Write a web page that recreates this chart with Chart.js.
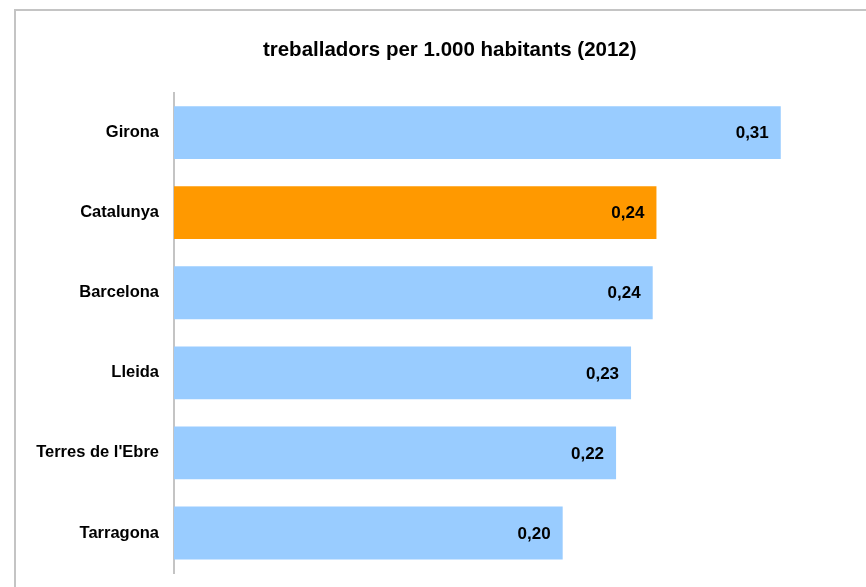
<!DOCTYPE html>
<html>
<head>
<meta charset="utf-8">
<script src="https://cdn.jsdelivr.net/npm/chart.js@4"></script>
<style>
  html, body { margin: 0; padding: 0; background: #fff; }
  #wrap { position: relative; width: 866px; height: 587px; }
</style>
</head>
<body>
<div id="wrap"><canvas id="grafico" width="866" height="587"></canvas></div>
<script>
const titol = 'treballadors per 1.000 habitants (2012)';
const territoris = ['Girona', 'Catalunya', 'Barcelona', 'Lleida', "Terres de l'Ebre", 'Tarragona'];
const valors = [0.308, 0.2449, 0.2430, 0.2320, 0.2244, 0.1973];
const colors = ['#99ccff', '#ff9900', '#99ccff', '#99ccff', '#99ccff', '#99ccff'];

const FONT = '"Liberation Sans", Arial, sans-serif';

// marc gris de dalt i esquerra
const marc = {
  id: 'marc',
  beforeDraw(chart) {
    const c = chart.ctx;
    c.save();
    c.strokeStyle = '#c4c4c4';
    c.lineWidth = 2;
    c.beginPath();
    c.moveTo(15, 587);
    c.lineTo(15, 10);
    c.lineTo(866, 10);
    c.stroke();
    c.restore();
  }
};

// etiquetes de valor dins la barra
const etiquetes = {
  id: 'etiquetes',
  afterDatasetsDraw(chart) {
    const c = chart.ctx;
    const meta = chart.getDatasetMeta(0);
    c.save();
    c.font = 'bold 17px ' + FONT;
    c.fillStyle = '#000';
    c.textAlign = 'right';
    c.textBaseline = 'middle';
    meta.data.forEach((bar, i) => {
      c.fillText(valors[i].toFixed(2).replace('.', ','), bar.x - 12, bar.y + 1);
    });
    c.restore();
  }
};

const ctx = document.getElementById('grafico').getContext('2d');
window.miGrafico = new Chart(ctx, {
  type: 'bar',
  data: {
    labels: territoris,
    datasets: [{
      data: valors,
      backgroundColor: colors,
      borderWidth: 0,
      categoryPercentage: 1,
      barPercentage: 0.66
    }]
  },
  options: {
    indexAxis: 'y',
    responsive: false,
    animation: false,
    layout: { padding: { left: 36, right: 2.5, top: 0, bottom: 14 } },
    plugins: {
      legend: { display: false },
      tooltip: { enabled: false },
      title: {
        display: true,
        text: titol,
        color: '#000',
        font: { family: FONT, size: 20.5, weight: 'bold', lineHeight: 1.2 },
        padding: { top: 38, bottom: 30 }
      }
    },
    scales: {
      x: { display: false, min: 0, max: 0.35 },
      y: {
        grid: { display: false, drawTicks: false },
        border: { display: true, color: '#c4c4c4', width: 2 },
        ticks: {
          color: '#000',
          padding: 15,
          font: { family: FONT, size: 16.5, weight: 'bold' }
        },
        afterFit: scale => {
          scale.width = 138;
          scale.paddingTop = 0;
          scale.paddingBottom = 0;
        }
      }
    }
  },
  plugins: [marc, etiquetes]
});
</script>
</body>
</html>
